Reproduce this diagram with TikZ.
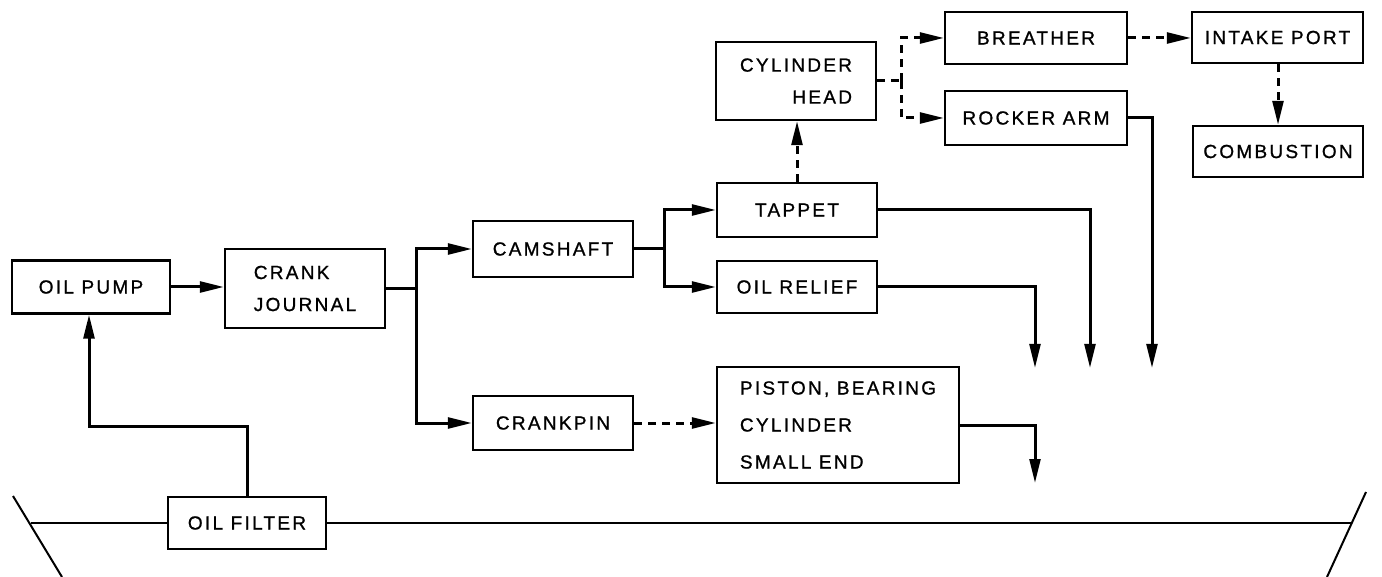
\documentclass[tikz,border=0pt]{standalone}
\usepackage{fontspec}
\usetikzlibrary{arrows.meta,calc}
\newfontfamily\labfont{Liberation Sans}[LetterSpace=12,FakeBold=1]
\begin{document}
\begin{tikzpicture}[x=0.5pt,y=-0.5pt,
  box/.style={draw,line width=1.1pt,inner sep=0pt,font=\labfont\fontsize{9.5pt}{16pt}\selectfont},
  conn/.style={line width=1.5pt},
  arr/.style={conn,-{Triangle[length=12pt,width=5.4pt]}},
  darr/.style={arr,dash pattern=on 4pt off 3pt},
  pan/.style={line width=1pt}]
\useasboundingbox (0,0) rectangle (1382,577);
% boxes
\node[box,minimum width=79pt,minimum height=26.5pt] (pump) at (91,287) {OIL PUMP};
\node[box,minimum width=80pt,minimum height=39.5pt,align=left] (crank) at (305,288.5) {CRANK\\JOURNAL};
\node[box,minimum width=80pt,minimum height=28pt] (cam) at (553,249) {CAMSHAFT};
\node[box,minimum width=80pt,minimum height=27pt] (tappet) at (797,210) {TAPPET};
\node[box,minimum width=80pt,minimum height=26pt] (relief) at (797,287) {OIL RELIEF};
\node[box,minimum width=80pt,minimum height=39pt,align=right] (head) at (796,81) {CYLINDER\\HEAD};
\node[box,minimum width=91pt,minimum height=26pt] (breather) at (1036,38) {BREATHER};
\node[box,minimum width=91pt,minimum height=27pt] (rocker) at (1036,118) {ROCKER ARM};
\node[box,minimum width=85.5pt,minimum height=25.5pt] (intake) at (1277.5,37.5) {INTAKE PORT};
\node[box,minimum width=85pt,minimum height=25.5pt] (comb) at (1278,151.5) {COMBUSTION};
\node[box,minimum width=80pt,minimum height=27pt] (crankpin) at (553,423) {CRANKPIN};
\node[box,minimum width=121pt,minimum height=58pt,align=left,font=\labfont\fontsize{9.5pt}{18.5pt}\selectfont] (piston) at (838,425) {PISTON, BEARING\\CYLINDER\\SMALL END};
\node[box,minimum width=79pt,minimum height=26pt] (filter) at (247,523) {OIL FILTER};
% drop points
\coordinate (d1) at (1035,368);
\coordinate (d2) at (1090,368);
\coordinate (d3) at (1152,368);
\coordinate (d4) at (1035,483);
\coordinate (fp) at (89,426);
\coordinate (lvl) at (1352,523);
% connectors
\draw[arr] (pump.east) -- (pump.east -| crank.west);
\draw[arr] (crank.east) -- ++(30,0) |- (cam.west);
\draw[arr] (crank.east) ++(30,0) |- (crankpin.west);
\draw[arr] (cam.east) -- ++(30,0) |- (tappet.west);
\draw[arr] (cam.east) ++(30,0) |- (relief.west);
\draw[darr] (tappet.north) -- (tappet.north |- head.south);
\draw[dash pattern=on 4pt off 3pt,conn] (head.east) -- ++(24,0);
\draw[darr] (head.east) ++(24,0) |- (breather.west);
\draw[darr] (head.east) ++(24,0) |- (rocker.west);
\draw[darr] (breather.east) -- (breather.east -| intake.west);
\draw[darr] (intake.south -| comb.north) -- (comb.north);
\draw[arr] (rocker.east) -| (d3);
\draw[arr] (tappet.east) -| (d2);
\draw[arr] (relief.east) -| (d1);
\draw[darr] (crankpin.east) -- (crankpin.east -| piston.west);
\draw[arr] (piston.east) -| (d4);
\draw[arr] (filter.north) |- (fp) -- (fp |- pump.south);
% oil pan
\draw[pan] (31,523) -- (filter.west);
\draw[pan] (filter.east) -- (lvl);
\draw[pan] (13,496) -- (62,577);
\draw[pan] (1366,492) -- (1327,577);
\end{tikzpicture}
\end{document}
